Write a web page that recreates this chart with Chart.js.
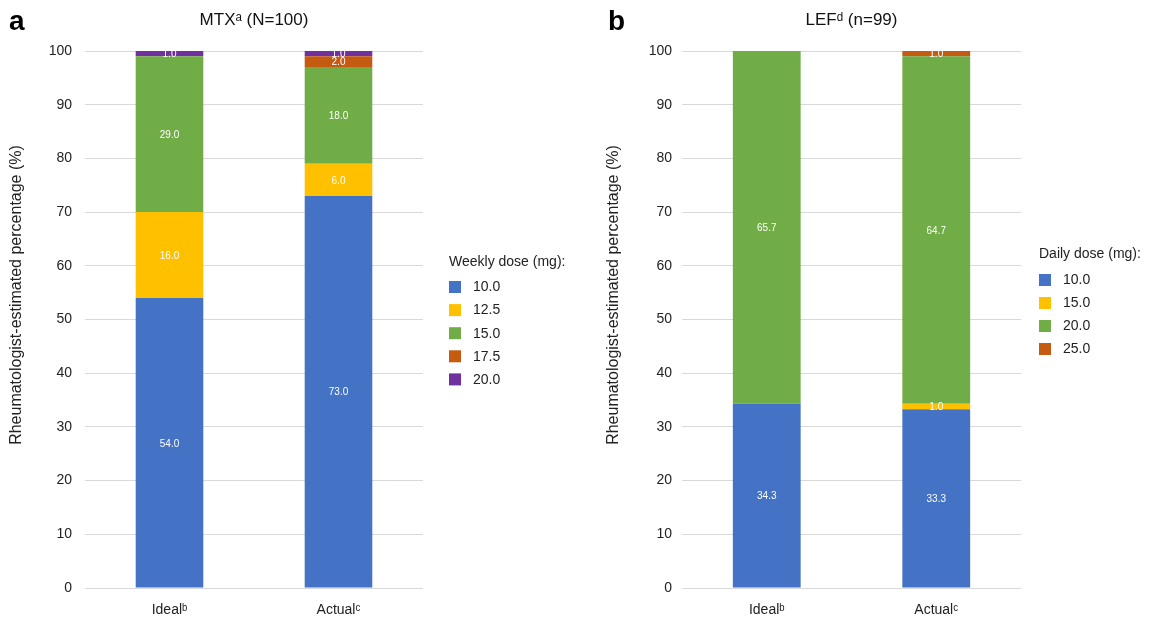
<!DOCTYPE html>
<html>
<head>
<meta charset="utf-8">
<script src="https://cdn.jsdelivr.net/npm/chart.js@4.4.1/dist/chart.umd.min.js"></script>
<style>
  html, body { margin: 0; padding: 0; background: #fff; }
  body { width: 1150px; height: 617px; position: relative; overflow: hidden; }
  .panel { position: absolute; top: 0; height: 617px; }
  #wrapA { left: 0; width: 597px; }
  #wrapB { left: 597px; width: 553px; }
</style>
</head>
<body>
<div class="panel" id="wrapA"><canvas id="chartA" width="597" height="617"></canvas></div>
<div class="panel" id="wrapB"><canvas id="chartB" width="553" height="617"></canvas></div>
<script>
// ---------- DATA ----------
const categories = ['Ideal\u1D47', 'Actual\u1D9C'];

const mtxTitle = 'MTX\u1D43 (N=100)';
const mtxLegendTitle = 'Weekly dose (mg):';
const mtxDoses = ['10.0', '12.5', '15.0', '17.5', '20.0'];
const mtx10  = [54.0, 73.0];
const mtx125 = [16.0, 6.0];
const mtx15  = [29.0, 18.0];
const mtx175 = [0.0, 2.0];
const mtx20  = [1.0, 1.0];

const lefTitle = 'LEF\u1D48 (n=99)';
const lefLegendTitle = 'Daily dose (mg):';
const lefDoses = ['10.0', '15.0', '20.0', '25.0'];
const lef10 = [34.3, 33.3];
const lef15 = [0.0, 1.0];
const lef20 = [65.7, 64.7];
const lef25 = [0.0, 1.0];

const yAxisTitle = 'Rheumatologist-estimated percentage (%)';
const yMin = 0, yMax = 100, yStep = 10;

// ---------- STYLE ----------
const FONT = '"Liberation Sans", Arial, Helvetica, sans-serif';
const mtxColors = ['#4472C4', '#FFC000', '#70AD47', '#C55A11', '#7030A0'];
const lefColors = ['#4472C4', '#FFC000', '#70AD47', '#C55A11'];
Chart.defaults.font.family = FONT;
Chart.defaults.color = '#222';

// segment value labels
const segmentLabels = {
  id: 'segmentLabels',
  afterDatasetsDraw(chart) {
    const ctx = chart.ctx;
    ctx.save();
    ctx.font = '10px ' + FONT;
    ctx.fillStyle = '#ffffff';
    ctx.textAlign = 'center';
    ctx.textBaseline = 'middle';
    chart.data.datasets.forEach((ds, di) => {
      const meta = chart.getDatasetMeta(di);
      meta.data.forEach((el, i) => {
        const v = ds.data[i];
        if (!v) return;
        const p = el.getProps(['x', 'y', 'base'], true);
        ctx.fillText(v.toFixed(1), p.x, (p.y + p.base) / 2 + 1);
      });
    });
    ctx.restore();
  }
};

// side legend, panel letter and y-axis title
const sideLegend = {
  id: 'sideLegend',
  afterDraw(chart, args, opts) {
    const ctx = chart.ctx;
    ctx.save();
    ctx.font = 'bold 28px ' + FONT;
    ctx.fillStyle = '#000';
    ctx.textAlign = 'left';
    ctx.textBaseline = 'middle';
    ctx.fillText(opts.letter, opts.letterX, 22);
    ctx.font = '14px ' + FONT;
    ctx.fillStyle = '#222';
    ctx.fillText(opts.title, opts.x, opts.titleY);
    chart.data.datasets.forEach((ds, i) => {
      const y = opts.firstY + i * opts.spacing;
      ctx.fillStyle = ds.backgroundColor;
      ctx.fillRect(opts.x, y - 6, 12, 12);
      ctx.fillStyle = '#222';
      ctx.fillText(ds.label, opts.x + 24, y + 0.5);
    });
    // y-axis title
    ctx.translate(17, 295);
    ctx.rotate(-Math.PI / 2);
    ctx.textAlign = 'center';
    ctx.font = '16px ' + FONT;
    ctx.fillStyle = '#222';
    ctx.fillText(yAxisTitle, 0, 0);
    ctx.restore();
  }
};

function makeChart(id, title, doses, series, colors, legendOpts, padRight, tickPad) {
  return new Chart(document.getElementById(id), {
    type: 'bar',
    data: {
      labels: categories,
      datasets: series.map((s, i) => ({
        label: doses[i],
        data: s,
        backgroundColor: colors[i],
        borderWidth: 0,
        barPercentage: 0.4,
        categoryPercentage: 1.0
      }))
    },
    options: {
      responsive: false,
      animation: false,
      layout: { padding: { top: 0, right: padRight, bottom: 0, left: 0 } },
      plugins: {
        legend: { display: false },
        tooltip: { enabled: false },
        title: {
          display: true,
          text: title,
          fullSize: false,
          color: '#111',
          font: { size: 17, weight: 'normal', family: FONT },
          padding: { top: 10.5, bottom: 20.1 }
        },
        sideLegend: legendOpts
      },
      scales: {
        x: {
          stacked: true,
          grid: { display: false },
          border: { display: false },
          ticks: { color: '#222', font: { size: 14 }, padding: 6 },
          afterFit(scale) { scale.height = 29; }
        },
        y: {
          stacked: true,
          min: yMin, max: yMax,
          ticks: { stepSize: yStep, color: '#222', font: { size: 14 }, padding: tickPad },
          grid: { color: '#d9d9d9', lineWidth: 1, drawTicks: false },
          border: { display: false },
          title: { display: false, text: yAxisTitle },
          afterFit(scale) { scale.width = 85; }
        }
      }
    },
    plugins: [segmentLabels, sideLegend]
  });
}

makeChart('chartA', mtxTitle, mtxDoses, [mtx10, mtx125, mtx15, mtx175, mtx20], mtxColors,
  { letter: 'a', letterX: 9, title: mtxLegendTitle, x: 449, titleY: 262, firstY: 287, spacing: 23.1 },
  597 - 423, 13);

makeChart('chartB', lefTitle, lefDoses, [lef10, lef15, lef20, lef25], lefColors,
  { letter: 'b', letterX: 11, title: lefLegendTitle, x: 442, titleY: 254, firstY: 280, spacing: 23 },
  553 - 424, 10);
</script>
</body>
</html>
